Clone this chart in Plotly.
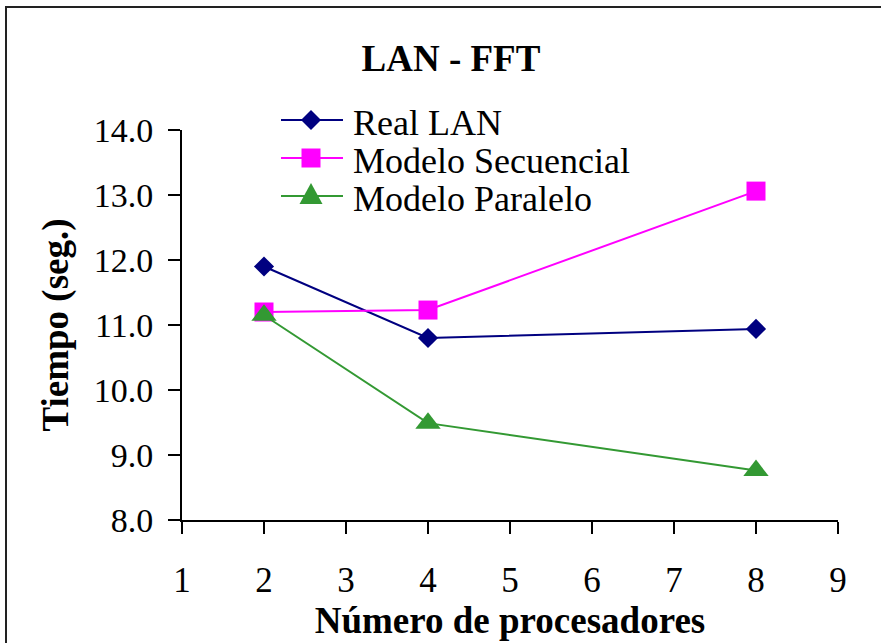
import plotly.graph_objects as go

# Processor counts and measured/modelled run times (seconds)
procesadores = [2, 4, 8]
real_lan = [11.90, 10.80, 10.94]
modelo_secuencial = [11.20, 11.23, 13.06]
modelo_paralelo = [11.15, 9.49, 8.76]

series_names = ["Real LAN", "Modelo Secuencial", "Modelo Paralelo"]
x_ticks = [1, 2, 3, 4, 5, 6, 7, 8, 9]
y_ticks = [8, 9, 10, 11, 12, 13, 14]

NAVY = "#000080"
MAGENTA = "#FF00FF"
GREEN = "#339933"
SERIF = "Liberation Serif"

W, H = 881, 643
L, R, T, B = 182, 43, 130, 123
PW, PH = W - L - R, H - T - B


def px_x(px):
    return (px - L) / PW


def px_y(py):
    return (H - B - py) / PH


fig = go.Figure()
fig.add_trace(go.Scatter(
    x=procesadores, y=real_lan, name=series_names[0], mode="lines+markers",
    line=dict(color=NAVY, width=2),
    marker=dict(symbol="diamond", size=15.5, color=NAVY)))
fig.add_trace(go.Scatter(
    x=procesadores, y=modelo_secuencial, name=series_names[1], mode="lines+markers",
    line=dict(color=MAGENTA, width=2),
    marker=dict(symbol="square", size=19, color=MAGENTA)))
fig.add_trace(go.Scatter(
    x=procesadores, y=modelo_paralelo, name=series_names[2], mode="lines+markers",
    line=dict(color=GREEN, width=2),
    marker=dict(symbol="triangle-up", size=22, color=GREEN)))

shapes = []
annotations = []

# Outer chart frame
shapes.append(dict(type="rect", xref="paper", yref="paper",
                   x0=px_x(6), x1=px_x(900), y0=px_y(660), y1=px_y(7),
                   line=dict(color="#222222", width=2), layer="below"))

# Hand-built legend: sample line, symbol and label per series
legend_rows = [120, 158, 196]
colors = [NAVY, MAGENTA, GREEN]
symbol_paths = [
    "M -10 0 L 0 10 L 10 0 L 0 -10 Z",           # diamond
    "M -9.5 -9.5 L 9.5 -9.5 L 9.5 9.5 L -9.5 9.5 Z",  # square
    "M -11.5 -8 L 11.5 -8 L 0 13 Z",             # triangle
]
for row, col, path, name in zip(legend_rows, colors, symbol_paths, series_names):
    shapes.append(dict(type="line", xref="paper", yref="paper",
                       x0=px_x(281), x1=px_x(343), y0=px_y(row), y1=px_y(row),
                       line=dict(color=col, width=2)))
    shapes.append(dict(type="path", xref="paper", yref="paper",
                       xsizemode="pixel", ysizemode="pixel",
                       xanchor=px_x(311), yanchor=px_y(row),
                       path=path, fillcolor=col, line=dict(color=col, width=0)))
    annotations.append(dict(xref="paper", yref="paper", x=px_x(351), y=px_y(row + 3),
                            xanchor="left", yanchor="middle", showarrow=False,
                            text=name, font=dict(family=SERIF, size=36, color="black")))

fig.update_layout(
    width=W, height=H,
    margin=dict(l=L, r=R, t=T, b=B),
    paper_bgcolor="white", plot_bgcolor="white",
    showlegend=False,
    title=dict(text="LAN - FFT", x=451 / W, xanchor="center", xref="container",
               y=1 - 58 / H, yanchor="middle", yref="container",
               font=dict(family=SERIF, size=37, color="black", weight="bold")),
    shapes=shapes,
    annotations=annotations,
)

fig.update_xaxes(
    range=[1, 9], tickvals=x_ticks, ticktext=[str(v) for v in x_ticks],
    showgrid=False, zeroline=False,
    showline=True, linecolor="black", linewidth=2,
    ticks="outside", ticklen=12, tickwidth=2, tickcolor="black",
    ticklabelstandoff=16,
    tickfont=dict(family=SERIF, size=35, color="black"),
    title=dict(text="Número de procesadores", standoff=0,
               font=dict(family=SERIF, size=37, color="black", weight="bold")),
    automargin=False,
)
fig.update_yaxes(
    range=[8, 14], tickvals=y_ticks, tickformat=".1f",
    showgrid=False, zeroline=False,
    showline=True, linecolor="black", linewidth=2,
    ticks="outside", ticklen=12, tickwidth=2, tickcolor="black",
    ticklabelstandoff=8,
    tickfont=dict(family=SERIF, size=34, color="black"),
    title=dict(text="Tiempo (seg.)", standoff=14,
               font=dict(family=SERIF, size=37, color="black", weight="bold")),
    automargin=False,
)

fig.write_html("out.html")
